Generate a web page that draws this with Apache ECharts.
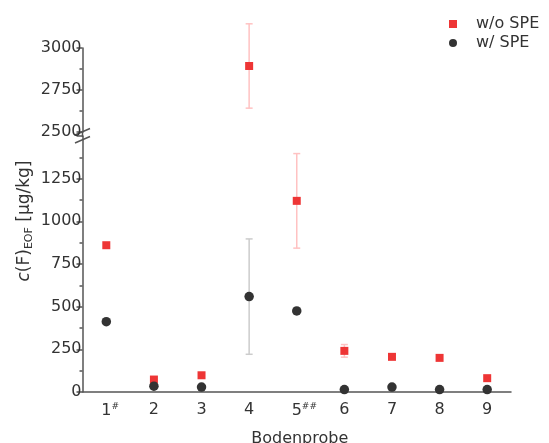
<!DOCTYPE html>
<html>
<head>
<meta charset="utf-8">
<script src="https://cdn.jsdelivr.net/npm/echarts@6/dist/echarts.min.js"></script>
<style>
  html, body { margin: 0; padding: 0; background: #fff; }
  #chart { width: 549px; height: 443px; }
</style>
</head>
<body>
<div id="chart"></div>
<script>
// Bodenproben 1..9, # / ## markers as superscript
const categories = ['1', '2', '3', '4', '5', '6', '7', '8', '9'];
const catMarks = ['#', '', '', '', '##', '', '', '', ''];

// c(F)EOF in µg/kg
const woSpe = [860, 73, 98, 2893, 1120, 241, 206, 200, 81];
const woSpeErr = [0, 0, 0, 251, 277, 37, 0, 0, 0];
const wSpe = [412, 34, 29, 559, 475, 14, 29, 14, 14];
const wSpeErr = [0, 0, 0, 338, 0, 0, 0, 0, 0];

// broken y axis: lower part and upper part
const lowerTicks = [0, 1500, 250];
const upperTicks = [2500, 3000, 250];

const RED = '#ee3535';
const DARK = '#333333';
const AXIS = '#555555';
const FONT = 'DejaVu Sans';

const chart = echarts.init(document.getElementById('chart'));

function inLower(v) { return v <= lowerTicks[1]; }
function inUpper(v) { return v >= upperTicks[0]; }

function errData(vals, errs, test) {
  const out = [];
  vals.forEach((v, i) => {
    if (errs[i] > 0 && test(v)) out.push([i, v - errs[i], v + errs[i]]);
  });
  return out;
}

function errRenderer(color) {
  return function (params, api) {
    const i = api.value(0);
    const top = api.coord([i, api.value(2)]);
    const bot = api.coord([i, api.value(1)]);
    const hw = 3.5;
    const st = { stroke: color, lineWidth: 1.5 };
    return {
      type: 'group',
      children: [
        { type: 'line', shape: { x1: top[0], y1: top[1], x2: bot[0], y2: bot[1] }, style: st },
        { type: 'line', shape: { x1: top[0] - hw, y1: top[1], x2: top[0] + hw, y2: top[1] }, style: st },
        { type: 'line', shape: { x1: bot[0] - hw, y1: bot[1], x2: bot[0] + hw, y2: bot[1] }, style: st }
      ]
    };
  };
}

const axisLineStyle = { color: AXIS, width: 1.5 };

function yAxisFor(grid, ticks, hideMax) {
  return {
    gridIndex: grid,
    type: 'value',
    min: ticks[0],
    max: ticks[1],
    interval: ticks[2],
    axisLine: { show: true, lineStyle: axisLineStyle },
    axisTick: { show: true, length: 6, lineStyle: axisLineStyle },
    minorTick: { show: true, splitNumber: 2, length: 3, lineStyle: { color: AXIS, width: 1.5 } },
    splitLine: { show: false },
    axisLabel: {
      margin: 1,
      fontSize: 16,
      color: DARK,
      fontFamily: FONT,
      showMaxLabel: !hideMax,
      formatter: v => String(v)
    }
  };
}

const option = {
  animation: false,
  textStyle: { fontFamily: FONT },
  legend: {
    orient: 'vertical',
    left: 449,
    top: 16,
    padding: 0,
    itemWidth: 8,
    itemHeight: 8,
    itemGap: 3,
    textStyle: { fontSize: 16, color: DARK, lineHeight: 16, padding: [0, 0, 0, 14], fontFamily: FONT },
    data: [
      { name: 'w/o SPE', icon: 'rect' },
      { name: 'w/ SPE', icon: 'circle' }
    ]
  },
  grid: [
    { left: 82.5, right: 38, top: 48, height: 84, outerBoundsMode: 'none', containLabel: false },
    { left: 82.5, right: 38, top: 136, height: 256, outerBoundsMode: 'none', containLabel: false }
  ],
  xAxis: [
    { gridIndex: 0, type: 'category', data: categories, show: false },
    {
      gridIndex: 1,
      type: 'category',
      data: categories,
      axisLine: { lineStyle: axisLineStyle },
      axisTick: { alignWithLabel: true, length: 5, lineStyle: axisLineStyle },
      axisLabel: {
        interval: 0,
        hideOverlap: false,
        margin: 10,
        fontSize: 16,
        color: DARK,
        fontFamily: FONT,
        formatter: function (val, idx) {
          const m = catMarks[idx];
          return m ? '{h|' + m + '}{n|' + val + '}{sup|' + m + '}' : '{n|' + val + '}';
        },
        rich: {
          n: { fontSize: 16, color: DARK, fontFamily: FONT },
          h: { fontSize: 9, color: 'rgba(0,0,0,0)', fontFamily: FONT },
          sup: { fontSize: 9, color: DARK, fontFamily: FONT, padding: [0, 0, 9, 0] }
        }
      },
      name: 'Bodenprobe',
      nameLocation: 'middle',
      nameGap: 39,
      nameTextStyle: { fontSize: 16, color: DARK, fontFamily: FONT, padding: [0, 0, 0, 6] }
    }
  ],
  yAxis: [
    yAxisFor(0, upperTicks, false),
    yAxisFor(1, lowerTicks, true)
  ],
  graphic: [
    // axis break
    { type: 'line', shape: { x1: 82.5, y1: 131, x2: 82.5, y2: 137 }, style: { stroke: AXIS, lineWidth: 1.5 } },
    { type: 'line', shape: { x1: 75, y1: 135, x2: 90, y2: 128.5 }, style: { stroke: AXIS, lineWidth: 1.5 } },
    { type: 'line', shape: { x1: 75, y1: 143, x2: 90, y2: 136.5 }, style: { stroke: AXIS, lineWidth: 1.5 } },
    {
      type: 'text',
      x: 25,
      y: 221,
      rotation: Math.PI / 2,
      style: {
        text: '{i|c}{n|(F)}{s|EOF}{n| [µg/kg]}',
        x: 0, y: 0,
        align: 'center', verticalAlign: 'middle',
        textAlign: 'center', textVerticalAlign: 'middle',
        rich: {
          i: { fontSize: 17, fontStyle: 'italic', fill: DARK, fontFamily: FONT },
          n: { fontSize: 17, fill: DARK, fontFamily: FONT },
          s: { fontSize: 11, fill: DARK, fontFamily: FONT, padding: [9, 0, 0, 0] }
        }
      }
    }
  ],
  series: [
    {
      name: 'errWo',
      type: 'custom',
      xAxisIndex: 1, yAxisIndex: 1,
      renderItem: errRenderer('#ffc2c2'),
      encode: { x: 0, y: [1, 2] },
      data: errData(woSpe, woSpeErr, inLower),
      z: 1
    },
    {
      name: 'errWoUp',
      type: 'custom',
      xAxisIndex: 0, yAxisIndex: 0,
      renderItem: errRenderer('#ffc2c2'),
      encode: { x: 0, y: [1, 2] },
      data: errData(woSpe, woSpeErr, inUpper),
      clip: false,
      z: 1
    },
    {
      name: 'errW',
      type: 'custom',
      xAxisIndex: 1, yAxisIndex: 1,
      renderItem: errRenderer('#cccccc'),
      encode: { x: 0, y: [1, 2] },
      data: errData(wSpe, wSpeErr, inLower),
      z: 1
    },
    {
      name: 'w/o SPE',
      type: 'scatter',
      xAxisIndex: 1, yAxisIndex: 1,
      symbol: 'rect',
      symbolSize: 8,
      itemStyle: { color: RED, opacity: 1 },
      data: woSpe.map(v => inLower(v) ? v : '-'),
      z: 3
    },
    {
      name: 'w/o SPE',
      type: 'scatter',
      xAxisIndex: 0, yAxisIndex: 0,
      symbol: 'rect',
      symbolSize: 8,
      itemStyle: { color: RED, opacity: 1 },
      data: woSpe.map(v => inUpper(v) ? v : '-'),
      z: 3
    },
    {
      name: 'w/ SPE',
      type: 'scatter',
      xAxisIndex: 1, yAxisIndex: 1,
      symbol: 'circle',
      symbolSize: 9.5,
      itemStyle: { color: DARK, opacity: 1 },
      data: wSpe,
      z: 4
    }
  ]
};

chart.setOption(option);
</script>
</body>
</html>
